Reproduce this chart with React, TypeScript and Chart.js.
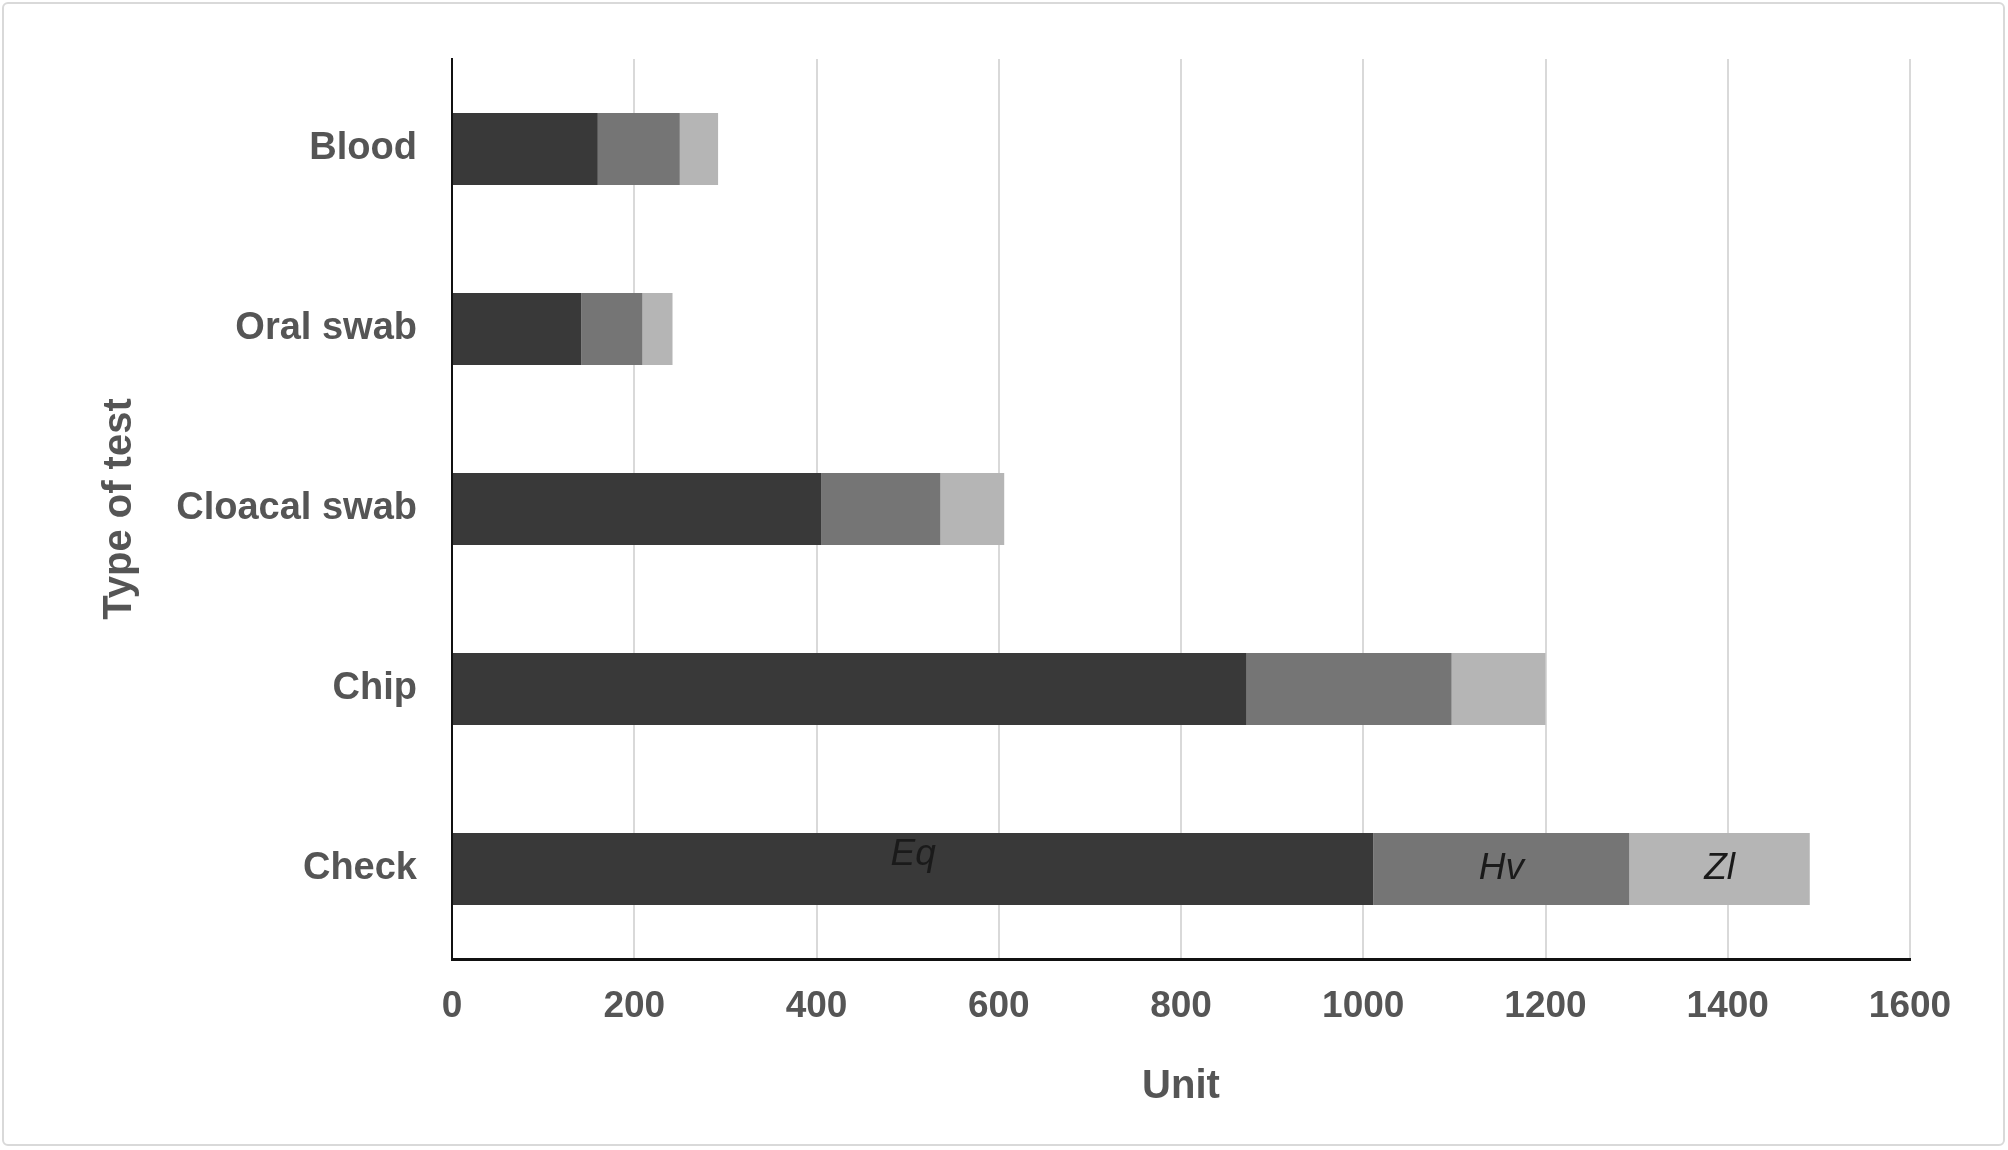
import React, { useEffect, useRef } from "react";
import { Chart, registerables } from "chart.js";

Chart.register(...registerables);

const categories = ["Blood", "Oral swab", "Cloacal swab", "Chip", "Check"];
const seriesNames = ["Eq", "Hv", "Zl"];
const eqValues = [160, 142, 405, 872, 1011];
const hvValues = [90, 67, 131, 225, 281];
const zlValues = [42, 33, 70, 103, 198];
const seriesColors = ["#393939", "#757575", "#b5b5b5"];
const labelledCategory = "Check";
const xTitle = "Unit";
const yTitle = "Type of test";

const FONT = "'Liberation Sans', Arial, sans-serif";

const segmentLabels = {
  id: "segmentLabels",
  afterDatasetsDraw(chart: any) {
    const ctx = chart.ctx;
    const idx = categories.indexOf(labelledCategory);
    ctx.save();
    ctx.font = `italic 37px ${FONT}`;
    ctx.fillStyle = "#1a1a1a";
    ctx.textAlign = "center";
    ctx.textBaseline = "middle";
    chart.data.datasets.forEach((ds: any, i: number) => {
      const meta = chart.getDatasetMeta(i);
      const el = meta.data[idx];
      if (!el) return;
      const cx = (el.x + el.base) / 2;
      const dy = i === 0 ? -14 : 0;
      ctx.fillText(ds.label, cx, el.y + dy);
    });
    ctx.restore();
  },
};

export default function App() {
  const ref = useRef<HTMLCanvasElement | null>(null);

  useEffect(() => {
    document.body.style.margin = "0";
    const canvas = ref.current;
    if (!canvas) return;
    const values = [eqValues, hvValues, zlValues];
    const chart = new Chart(canvas, {
      type: "bar",
      data: {
        labels: categories,
        datasets: seriesNames.map((name, i) => ({
          label: name,
          data: values[i],
          backgroundColor: seriesColors[i],
          borderWidth: 0,
          barPercentage: 0.4,
          categoryPercentage: 1,
        })),
      },
      options: {
        indexAxis: "y",
        animation: false,
        responsive: false,
        maintainAspectRatio: false,
        layout: { padding: { top: 59, right: 98, bottom: 0, left: 0 } },
        plugins: {
          legend: { display: false },
          tooltip: { enabled: false },
        },
        scales: {
          x: {
            stacked: true,
            min: 0,
            max: 1600,
            ticks: {
              stepSize: 200,
              color: "#555555",
              font: { family: FONT, size: 37, weight: "bold" },
              padding: 26,
              callback: (v: any) => String(v),
            },
            grid: {
              color: "#d9d9d9",
              lineWidth: 2,
              drawTicks: false,
            },
            border: { display: true, color: "#111111", width: 3 },
            title: {
              display: true,
              text: xTitle,
              color: "#555555",
              font: { family: FONT, size: 40, weight: "bold" },
              padding: { top: 0, bottom: 39 },
            },
            afterFit(scale: any) {
              scale.height = 1150 - 959;
            },
          },
          y: {
            stacked: true,
            ticks: {
              color: "#555555",
              font: { family: FONT, size: 38, weight: "bold" },
              padding: 35,
            },
            grid: { display: false, drawTicks: false },
            border: { display: true, color: "#111111", width: 2 },
            title: {
              display: true,
              text: yTitle,
              color: "#555555",
              font: { family: FONT, size: 40, weight: "bold" },
              padding: { top: 96, bottom: 0 },
            },
            afterFit(scale: any) {
              scale.width = 452;
            },
          },
        },
      },
      plugins: [segmentLabels],
    } as any);
    return () => chart.destroy();
  }, []);

  return (
    <div style={{ position: "relative", width: 2008, height: 1150, background: "#ffffff" }}>
      <canvas ref={ref} width={2008} height={1150} style={{ display: "block", width: 2008, height: 1150 }} />
      <div
        style={{
          position: "absolute",
          left: 2,
          top: 2,
          width: 2003,
          height: 1144,
          boxSizing: "border-box",
          border: "2px solid #d9d9d9",
          borderRadius: 6,
          pointerEvents: "none",
        }}
      />
    </div>
  );
}
